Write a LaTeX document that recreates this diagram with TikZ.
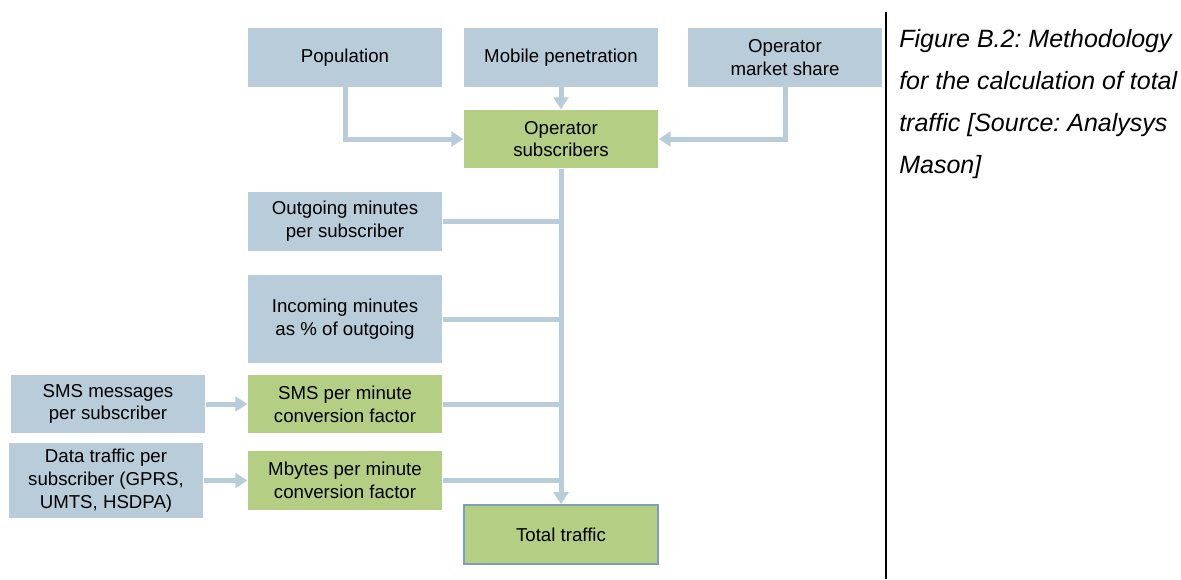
\documentclass[tikz,border=0pt]{standalone}
\usepackage{fontspec}
\setmainfont{Liberation Sans}
\usetikzlibrary{arrows.meta}
\definecolor{boxblue}{RGB}{185,204,218}
\definecolor{boxgreen}{RGB}{180,207,131}
\definecolor{totalline}{RGB}{125,157,185}
\frenchspacing

\begin{document}
\begin{tikzpicture}[x=0.75pt, y=-0.75pt,
  box/.style={fill=boxblue, align=center, inner sep=0pt, minimum width=146pt,
    minimum height=44pt, font=\fontsize{14}{17}\selectfont},
  calc/.style={box, fill=boxgreen},
  flow/.style={boxblue, line width=3.75pt},
  feed/.style={flow, -{Triangle[width=11pt,length=9pt]}},
  caption/.style={font=\fontsize{18.75}{31.5}\selectfont\itshape, align=left,
    anchor=north west, inner sep=0pt}]
\useasboundingbox (0,0) rectangle (1181,579);
\node [box] (pop) at (345,57.5) {Population};
\node [box] (mob) at (561,57.5) {Mobile penetration};
\node [box] (share) at (785,57.5) {Operator\\market share};
\node [calc] (subs) at (561,139) {Operator\\subscribers};
\node [box] (outm) at (345,221.5) {Outgoing minutes\\per subscriber};
\node [box, minimum height=66pt] (inm) at (345,319) {Incoming minutes\\as \% of outgoing};
\node [calc] (smsf) at (345,404) {SMS per minute\\conversion factor};
\node [box] (smsm) at (108,404) {SMS messages\\per subscriber};
\node [calc] (mbf) at (345,480.5) {Mbytes per minute\\conversion factor};
\node [box, minimum height=56pt] (data) at (106,480.5) {Data traffic per\\subscriber (GPRS,\\UMTS, HSDPA)};
\node [calc, draw=totalline, line width=1.5pt] (tot) at (561,534.5) {Total traffic};
\draw [feed] (pop) |- (subs);
\draw [feed] (mob) -- (subs);
\draw [feed] (share) |- (subs);
\foreach \src in {outm, inm, smsf, mbf}
  \draw [flow] (\src.east) -- (\src.east -| subs);
\draw [feed] (subs) -- (tot);
\draw [feed] (smsm) -- (smsf);
\draw [feed] (data) -- (mbf);
\draw [line width=1.5pt] (886,12) -- (886,579);
\node [caption] (cap) at (899,29) {Figure B.2: Methodology\\for the calculation of total\\traffic [Source: Analysys\\Mason]};
\end{tikzpicture}
\end{document}
